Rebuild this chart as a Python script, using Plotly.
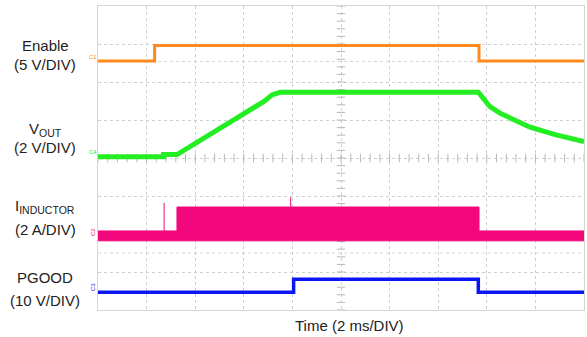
import plotly.graph_objects as go

# Time in ms (2 ms/DIV, 10 divisions); vertical values in screen divisions (0..8)
enable_t = [0, 2.33, 2.33, 15.68, 15.68, 20]
enable_y = [6.55, 6.55, 6.96, 6.96, 6.55, 6.55]

vout_t = [0, 2.70, 2.70, 3.25, 5.47, 6.86, 7.16, 7.49, 15.65, 15.88, 16.13, 16.54, 16.95, 17.78, 18.85, 20]
vout_y = [4.03, 4.03, 4.09, 4.09, 4.96, 5.50, 5.66, 5.73, 5.73, 5.54, 5.35, 5.18, 5.05, 4.81, 4.61, 4.43]

ind_t = [0, 3.25, 3.25, 15.68, 15.68, 20]
ind_top = [2.08, 2.08, 2.71, 2.71, 2.08, 2.08]
ind_bot_t = [0, 20]
ind_bot = [1.82, 1.82]
spike_t = [2.72, 7.93]
spike_top = [2.82, 2.97]

pg_t = [0, 8.05, 8.05, 15.65, 15.65, 20]
pg_y = [0.47, 0.47, 0.81, 0.81, 0.47, 0.47]

labels = [("Enable", "(5 V/DIV)"), ("V<sub>OUT</sub>", "(2 V/DIV)"),
          ("I<sub>INDUCTOR</sub>", "(2 A/DIV)"), ("PGOOD", "(10 V/DIV)")]
label_py = [(45.5, 65), (129, 147.5), (207, 229.5), (277.5, 300)]
xlabel = "Time (2 ms/DIV)"

ORANGE = "#FF8A1C"
GREEN = "#22EE22"
PINK = "#F2077D"
BLUE = "#0B16F2"
FONT = "Liberation Sans, Arial, Helvetica, sans-serif"

fig = go.Figure()

# center-line minor ticks
tick_x = [i * 0.4 for i in range(51)]
fig.add_trace(go.Scatter(x=tick_x, y=[4] * len(tick_x), mode="markers",
                         marker=dict(symbol="line-ns", size=6, line=dict(width=1, color="#b8b8b8")),
                         hoverinfo="skip", showlegend=False))
tick_y = [i * 0.2 for i in range(41)]
fig.add_trace(go.Scatter(x=[10] * len(tick_y), y=tick_y, mode="markers",
                         marker=dict(symbol="line-ew", size=6, line=dict(width=1, color="#b8b8b8")),
                         hoverinfo="skip", showlegend=False))

# inductor band
fig.add_trace(go.Scatter(x=ind_bot_t, y=ind_bot, mode="lines", line=dict(color=PINK, width=1),
                         showlegend=False, hoverinfo="skip"))
fig.add_trace(go.Scatter(x=ind_t, y=ind_top, mode="lines", line=dict(color=PINK, width=1),
                         fill="tonexty", fillcolor=PINK, showlegend=False, hoverinfo="skip"))
for t, top in zip(spike_t, spike_top):
    fig.add_trace(go.Scatter(x=[t, t], y=[2.0, top], mode="lines",
                             line=dict(color=PINK, width=1), showlegend=False, hoverinfo="skip"))

fig.add_trace(go.Scatter(x=enable_t, y=enable_y, mode="lines", line=dict(color=ORANGE, width=3),
                         showlegend=False))
fig.add_trace(go.Scatter(x=vout_t, y=vout_y, mode="lines", line=dict(color=GREEN, width=5),
                         showlegend=False))
fig.add_trace(go.Scatter(x=pg_t, y=pg_y, mode="lines", line=dict(color=BLUE, width=3.5),
                         showlegend=False))

# trigger markers
fig.add_trace(go.Scatter(x=[5.39], y=[-0.15], mode="markers", cliponaxis=False,
                         marker=dict(symbol="triangle-up", size=5, color=GREEN),
                         showlegend=False, hoverinfo="skip"))
fig.add_trace(go.Scatter(x=[20.1], y=[4.87], mode="markers", cliponaxis=False,
                         marker=dict(symbol="triangle-left", size=4, color=GREEN),
                         showlegend=False, hoverinfo="skip"))

# faint dashed reference lines
for yv in (6.54, 1.5):
    fig.add_shape(type="line", xref="x", yref="y", x0=0, x1=20, y0=yv, y1=yv,
                  line=dict(color="#d4d4d4", width=1, dash="dot"), layer="below")

L, T, R, B = 98, 6, 584, 310
W = R - L
H = B - T

def px_x(p):
    return (p - L) / W

def px_y(p):
    return (B - p) / H

for (l1, l2), (y1, y2) in zip(labels, label_py):
    fig.add_annotation(text=l1, x=px_x(45), y=px_y(y1), xref="paper", yref="paper",
                       showarrow=False, xanchor="center", yanchor="middle",
                       font=dict(size=15, color="#222", family=FONT))
    fig.add_annotation(text=l2, x=px_x(45), y=px_y(y2), xref="paper", yref="paper",
                       showarrow=False, xanchor="center", yanchor="middle",
                       font=dict(size=15, color="#222", family=FONT))

fig.add_annotation(text=xlabel, x=px_x(349), y=px_y(325), xref="paper", yref="paper",
                   showarrow=False, xanchor="center", yanchor="middle",
                   font=dict(size=15, color="#222", family=FONT))

# channel markers
for txt, col, py, ang in [("C1", ORANGE, 57, 0), ("C4", GREEN, 152, 0),
                          ("C2", PINK, 232, -90), ("C3", BLUE, 287, -90)]:
    fig.add_annotation(text=txt, x=px_x(93), y=px_y(py), xref="paper", yref="paper",
                       showarrow=False, xanchor="center", yanchor="middle", textangle=ang,
                       font=dict(size=6, color=col, family=FONT))

axis_common = dict(showticklabels=False, ticks="", zeroline=False,
                   showgrid=True, gridcolor="#cfcfcf", griddash="dot", gridwidth=1,
                   showline=True, linecolor="#d6d6d6", linewidth=1, mirror=True)

fig.update_layout(
    width=587, height=337,
    margin=dict(l=L, r=587 - R, t=T, b=337 - B),
    paper_bgcolor="white", plot_bgcolor="white",
    xaxis=dict(range=[0, 20], dtick=2, **axis_common),
    yaxis=dict(range=[0, 8], dtick=1, **axis_common),
    font=dict(family=FONT),
)

fig.write_html("out.html", config={"displayModeBar": False},
               post_script="document.body.style.margin='0';document.body.style.overflow='hidden';")
